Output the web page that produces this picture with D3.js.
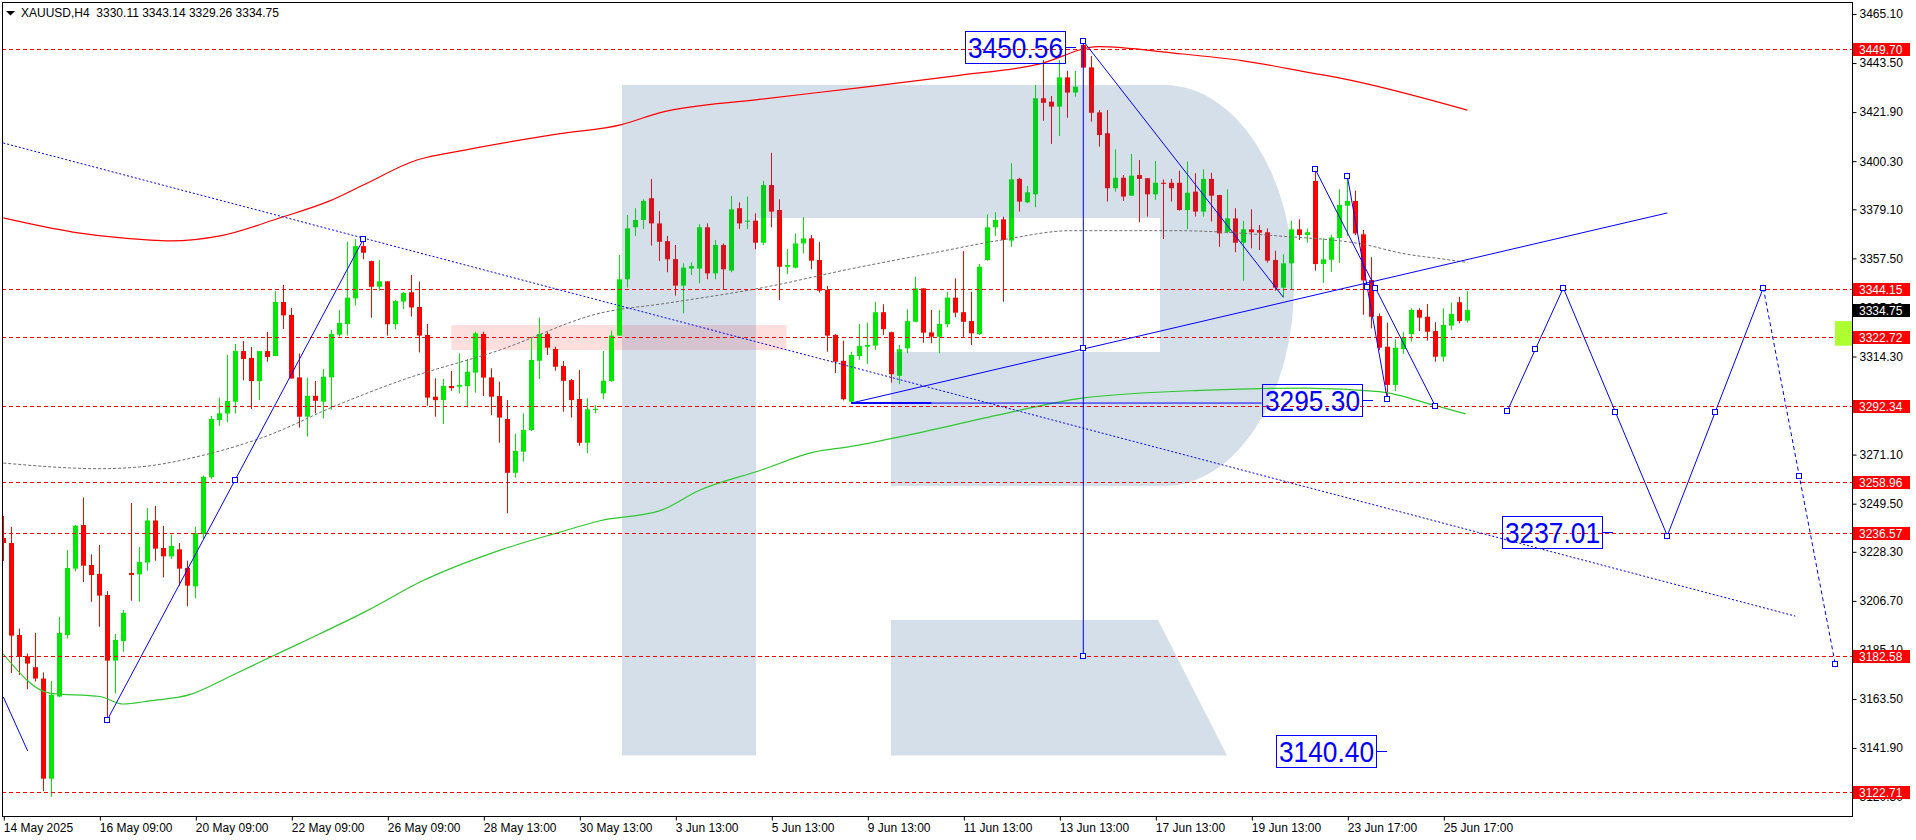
<!DOCTYPE html>
<html><head><meta charset="utf-8">
<script src="https://cdn.jsdelivr.net/npm/d3@7"></script>
<style>
body{margin:0;background:#fff}
svg{display:block}
text{font-family:"Liberation Sans",Arial,"DejaVu Sans",sans-serif}
</style>
</head><body>
<svg id="c" width="1916" height="840"></svg>
<script>
// ---------------- DATA ----------------
const chartTitle = "XAUUSD,H4  3330.11 3343.14 3329.26 3334.75";
const timeLabels = ["14 May 2025","16 May 09:00","20 May 09:00","22 May 09:00","26 May 09:00","28 May 13:00","30 May 13:00","3 Jun 13:00","5 Jun 13:00","9 Jun 13:00","11 Jun 13:00","13 Jun 13:00","17 Jun 13:00","19 Jun 13:00","23 Jun 17:00","25 Jun 17:00"];
const timeLabelBars = [0,12,24,36,48,60,72,84,96,108,120,132,144,156,168,180];
const priceTicks = [3465.10,3443.50,3421.90,3400.30,3379.10,3357.50,3335.90,3314.30,3292.70,3271.10,3249.50,3228.30,3206.70,3185.10,3163.50,3141.90,3120.30];
const levelPrices = [3449.70,3344.15,3322.72,3292.34,3258.96,3236.57,3182.58,3122.71];
const lastPrice = 3334.75;
const bidMarker = [3329.9,3319.05];
// candles: [open, high, low, close], one per H4 bar
const candles = [
[3234.4,3244.1,3224.3,3232.2],[3232.2,3239.3,3174.9,3191.4],[3191.7,3194.5,3174.1,3182.0],[3182.3,3183.5,3167.8,3179.1],
[3177.5,3192.6,3171.2,3172.5],[3172.5,3175.2,3123.0,3128.4],[3128.4,3171.4,3120.5,3165.4],[3164.6,3199.7,3164.3,3192.6],
[3191.7,3229.1,3190.1,3221.2],[3220.9,3240.1,3219.7,3239.8],[3240.1,3252.2,3215.0,3222.2],[3222.5,3227.2,3206.3,3218.1],
[3218.6,3231.3,3195.3,3209.0],[3209.3,3211.0,3155.2,3180.4],[3180.4,3192.1,3165.9,3189.5],[3189.0,3202.7,3184.3,3201.4],
[3219.0,3249.8,3206.8,3218.1],[3218.4,3230.4,3206.3,3223.8],[3223.6,3247.6,3220.0,3242.1],[3242.1,3248.5,3224.4,3229.7],
[3230.0,3239.7,3217.0,3226.3],[3226.3,3235.9,3225.1,3230.9],[3229.4,3232.2,3213.4,3220.9],[3221.2,3224.4,3204.3,3213.4],
[3213.1,3239.3,3207.9,3236.5],[3236.1,3261.8,3233.8,3261.3],[3261.2,3288.1,3260.5,3286.8],[3286.3,3296.2,3283.8,3289.3],
[3289.2,3315.1,3285.4,3294.7],[3294.4,3319.8,3289.2,3316.7],[3316.7,3321.1,3303.8,3313.2],[3313.7,3318.5,3291.2,3303.5],
[3303.5,3316.7,3295.1,3316.7],[3316.7,3325.1,3312.0,3314.1],[3314.5,3343.1,3314.5,3338.3],[3338.3,3345.8,3326.4,3332.4],
[3332.6,3335.7,3304.6,3304.6],[3305.1,3315.6,3283.0,3287.8],[3287.8,3304.9,3279.1,3297.0],[3297.0,3303.5,3289.3,3294.8],
[3294.4,3308.8,3287.0,3305.4],[3305.1,3326.0,3290.9,3324.2],[3323.9,3334.8,3323.1,3329.1],[3328.6,3364.8,3323.5,3340.2],
[3339.9,3366.0,3336.7,3362.9],[3362.9,3364.8,3357.1,3360.0],[3356.3,3356.5,3331.4,3345.0],[3345.0,3356.8,3343.3,3347.4],
[3347.4,3347.4,3323.5,3328.5],[3328.5,3339.2,3326.3,3338.7],[3338.5,3342.7,3335.2,3342.3],[3342.6,3350.2,3331.9,3335.9],
[3336.1,3347.3,3316.1,3323.5],[3323.8,3328.6,3292.6,3296.2],[3296.6,3304.7,3287.8,3295.1],[3295.1,3304.4,3284.6,3301.3],
[3301.3,3307.9,3299.2,3300.4],[3301.0,3315.7,3298.1,3301.8],[3301.3,3313.2,3291.9,3307.6],[3307.2,3325.2,3298.4,3324.5],
[3324.2,3325.2,3296.9,3305.0],[3305.1,3309.1,3288.5,3296.6],[3296.9,3303.2,3276.3,3287.4],[3286.8,3295.1,3245.3,3263.1],
[3263.1,3280.2,3260.9,3272.7],[3272.4,3289.3,3268.0,3281.9],[3281.9,3322.8,3281.5,3312.8],[3312.4,3331.4,3304.4,3324.2],
[3324.2,3325.2,3315.0,3318.2],[3317.6,3318.6,3308.0,3309.8],[3310.1,3312.3,3290.0,3303.6],[3303.9,3304.4,3287.4,3295.1],
[3295.6,3308.4,3275.0,3276.3],[3276.3,3295.9,3271.7,3291.1],[3290.7,3292.9,3289.3,3291.2],[3298.1,3316.7,3295.5,3303.6],
[3303.5,3325.7,3303.2,3323.5],[3323.5,3359.0,3323.5,3348.3],[3348.3,3376.6,3344.6,3370.7],[3371.2,3379.6,3367.4,3374.4],
[3374.4,3383.5,3370.4,3382.8],[3384.0,3392.5,3363.1,3372.9],[3372.9,3378.4,3356.3,3364.8],[3365.1,3367.4,3351.4,3357.1],
[3357.2,3363.4,3341.1,3345.5],[3345.5,3355.3,3333.3,3353.4],[3353.0,3355.8,3350.2,3354.1],[3353.0,3372.6,3346.5,3371.2],
[3371.2,3372.9,3348.3,3350.9],[3350.9,3365.6,3348.3,3363.4],[3363.4,3364.1,3343.9,3352.7],[3352.1,3385.0,3351.4,3379.1],
[3379.6,3382.2,3370.4,3372.9],[3373.7,3384.7,3370.4,3374.1],[3374.1,3377.3,3361.5,3364.4],[3364.4,3391.6,3363.4,3389.8],
[3389.8,3404.0,3371.2,3378.1],[3378.8,3383.5,3339.2,3353.8],[3353.8,3361.6,3350.5,3354.6],[3353.4,3368.5,3353.1,3364.1],
[3364.1,3375.6,3359.7,3366.3],[3366.3,3367.8,3352.7,3356.5],[3356.8,3364.8,3342.4,3343.3],[3343.6,3345.3,3316.4,3323.5],
[3323.8,3324.1,3307.0,3312.0],[3312.4,3321.3,3295.0,3295.5],[3294.4,3316.4,3293.8,3315.0],[3314.5,3328.6,3312.8,3318.9],
[3318.6,3329.2,3310.9,3319.4],[3319.1,3338.4,3317.2,3333.8],[3333.8,3337.3,3323.8,3326.3],[3325.0,3325.2,3302.8,3306.5],
[3305.8,3319.4,3302.1,3317.5],[3317.9,3335.1,3315.7,3329.9],[3329.6,3349.4,3329.6,3344.3],[3344.3,3344.3,3320.4,3324.8],
[3324.9,3334.8,3320.1,3323.0],[3323.0,3334.8,3315.7,3328.6],[3328.5,3342.8,3327.2,3340.2],[3340.2,3348.7,3331.6,3333.6],
[3333.8,3360.7,3323.0,3329.6],[3329.9,3342.8,3319.4,3324.5],[3324.2,3355.0,3323.8,3353.8],[3356.8,3376.9,3356.5,3371.2],
[3371.2,3377.8,3367.4,3374.4],[3374.7,3375.9,3338.4,3365.6],[3365.3,3399.4,3362.6,3392.3],[3392.5,3393.0,3378.1,3382.5],
[3382.2,3389.4,3381.8,3386.6],[3385.7,3433.8,3380.0,3428.0],[3428.0,3444.8,3418.1,3426.0],[3426.5,3429.0,3407.9,3424.3],
[3424.3,3444.8,3411.4,3437.2],[3437.2,3440.1,3419.4,3430.5],[3430.5,3440.0,3428.7,3433.1],[3451.5,3453.0,3441.5,3441.5],
[3441.6,3446.6,3417.7,3421.6],[3421.8,3422.8,3406.7,3411.8],[3412.6,3422.8,3382.5,3388.4],[3388.4,3405.5,3386.9,3393.0],
[3393.0,3394.2,3382.8,3384.7],[3385.1,3403.5,3385.1,3393.9],[3394.2,3400.8,3373.4,3392.5],[3392.8,3392.8,3375.9,3385.7],
[3385.7,3400.4,3383.2,3390.8],[3390.8,3392.3,3366.0,3390.3],[3390.8,3392.5,3382.5,3388.4],[3390.8,3396.1,3378.5,3378.8],
[3378.8,3400.1,3370.4,3386.4],[3386.9,3395.0,3375.9,3378.1],[3378.1,3396.7,3375.9,3392.5],[3392.5,3395.2,3373.7,3385.1],
[3385.4,3385.4,3362.6,3368.5],[3369.2,3387.9,3368.5,3375.1],[3375.1,3379.6,3360.2,3364.4],[3364.4,3374.0,3347.7,3370.3],
[3370.3,3379.1,3361.9,3369.0],[3370.0,3372.2,3361.2,3368.8],[3369.0,3370.7,3355.6,3356.5],[3356.8,3360.9,3343.3,3344.6],
[3344.6,3359.3,3340.4,3355.3],[3355.3,3374.0,3343.9,3370.3],[3370.3,3374.7,3365.6,3367.8],[3367.8,3370.7,3364.4,3369.0],
[3391.6,3397.2,3352.1,3355.0],[3355.0,3366.3,3346.7,3357.1],[3356.9,3368.0,3351.6,3366.7],[3366.5,3387.9,3355.5,3381.0],
[3380.7,3393.6,3367.4,3382.8],[3382.8,3387.3,3367.8,3368.5],[3368.1,3370.0,3332.7,3347.8],[3348.0,3358.0,3326.7,3331.8],
[3332.1,3333.3,3317.2,3318.2],[3318.6,3329.2,3296.6,3301.8],[3301.8,3321.9,3299.1,3318.2],[3317.6,3325.2,3315.4,3322.8],
[3324.2,3335.5,3320.8,3334.8],[3334.8,3335.5,3325.5,3331.4],[3331.8,3337.4,3321.3,3325.2],[3325.5,3329.4,3312.0,3314.2],
[3314.2,3335.5,3312.0,3328.2],[3327.9,3338.0,3326.0,3333.0],[3338.2,3340.6,3328.9,3329.9],[3330.11,3343.14,3329.26,3334.75]
];
// moving averages: [bar, price]
const maRed = [[0,3375.3],[8.7,3369.1],[14.8,3366.5],[20.9,3365.2],[27.1,3367.4],[34.7,3375.5],[40.8,3382.8],[45,3389.8],[51.7,3400.8],[57.7,3405.2],[69.6,3412.4],[77.3,3416.4],[82,3421.6],[94.5,3427.5],[106.9,3432.6],[119.3,3438.0],[129.3,3442.9],[136.9,3450.7],[146.3,3447.9],[155,3444.5],[163.6,3439.1],[167.1,3436.9],[183,3422.8]];
const maGrey = [[0,3267.4],[12.1,3264.9],[17.1,3265.7],[24.6,3270.5],[33,3279.4],[41.2,3292.1],[49.6,3303.6],[62.1,3317.2],[74.6,3333.4],[83,3337.8],[95.5,3345.0],[105.8,3352.8],[116.2,3359.9],[124.8,3365.6],[133.5,3369.7],[146.3,3369.7],[159.3,3367.4],[170.4,3363.4],[174.6,3359.9],[180.8,3356.8],[183,3355.7]];
const maGreen = [[0,3183.3],[5.8,3166.1],[12.1,3164.6],[15,3161.3],[18.3,3162.7],[23.3,3165.4],[28.7,3174.1],[37.1,3188.1],[45.5,3202.4],[52.1,3215.0],[62.5,3229.5],[69.6,3237.0],[74.6,3242.0],[82,3246.3],[87.1,3255.5],[94.5,3264.0],[101.3,3272.2],[105.8,3274.6],[113.1,3279.7],[125.6,3289.5],[134.8,3296.0],[150.5,3299.5],[162.8,3300.4],[172,3298.8],[178.8,3292.9],[182.8,3289.0]];
// drawn objects: [bar, price] end points
const trendSolid = [
  [[13,3154.3],[45,3365.9]],
  [[0,3164.4],[3.05,3140.6]],
  [[106,3293.8],[208,3377.5]],
  [[106,3293.8],[157.3,3293.8]],
  [[135,3453.2],[135,3182.6]],
  [[135,3453.2],[160,3340.4]],
  [[164,3396.7],[179,3292.5]],
  [[168,3393.8],[173,3295.6]],
  [[188,3290.3],[195,3344.5]],
  [[195,3344.5],[208,3235.4]],
  [[208,3235.4],[220,3344.5]]
];
const anchoredSolid = [0,4,6,7,8,9,10];
const trendDotted = [[[0,3408.3],[224,3200.0]]];
const forecastDotted = [[[220,3344.5],[229,3178.8]]];
const zoneBars = [56,97.9];
const zonePrices = [3328.16,3317.15];
const boxLabelPrices = [3450.56,3295.30,3237.01,3140.40];
const boxLabelBars = [120.25,157.3,187.3,159.1];

// ---------------- DRAW ----------------
const W=1916,H=840;
const plot={l:2,r:1852,t:2,b:816};
const x=d3.scaleLinear().domain([0,183]).range([3.3,3.3+183*8]);
const y=d3.scaleLinear().domain([3465.1,3163.5]).range([14,699]);
const BULL="#00e600", BEAR="#ff0000", BLUE="#0000ff";
const svg=d3.select('#c');
svg.append('rect').attr('width',W).attr('height',H).attr('fill','#fff');
svg.append('defs').append('clipPath').attr('id','clip').append('rect')
  .attr('x',plot.l+1).attr('y',plot.t+1).attr('width',plot.r-plot.l-1).attr('height',plot.b-plot.t-1);
const g=svg.append('g').attr('clip-path','url(#clip)');

// zone
g.append('rect').attr('x',x(zoneBars[0])).attr('width',x(zoneBars[1])-x(zoneBars[0]))
  .attr('y',y(zonePrices[0])).attr('height',y(zonePrices[1])-y(zonePrices[0]))
  .attr('fill','rgba(255,0,0,0.13)');

// candles
const cg=g.append('g');
cg.selectAll('line.wick').data(candles).join('line').attr('class','wick')
  .attr('x1',(d,i)=>Math.round(x(i))+0.5).attr('x2',(d,i)=>Math.round(x(i))+0.5)
  .attr('y1',d=>y(d[1])).attr('y2',d=>y(d[2]))
  .attr('stroke',d=>d[3]>=d[0]?BULL:BEAR).attr('stroke-width',1);
cg.selectAll('rect.body').data(candles).join('rect').attr('class','body')
  .attr('x',(d,i)=>Math.round(x(i))-2).attr('width',5)
  .attr('y',d=>Math.min(y(d[0]),y(d[3])))
  .attr('height',d=>Math.max(1,Math.abs(y(d[0])-y(d[3]))))
  .attr('fill',d=>d[3]>=d[0]?BULL:BEAR);

// watermark logo
g.append('path')
  .attr('d','M622,85 H1164 A130,200.5 0 0 1 1164,486 H891 V352 H1160 V218 H756 V755.5 H622 Z M891,620 H1158 L1227,755.5 H891 Z')
  .attr('fill','rgba(45,95,150,0.2)');

// moving averages
const ln=d3.line().x(d=>x(d[0])).y(d=>y(d[1])).curve(d3.curveMonotoneX);
g.append('path').attr('d',ln(maRed)).attr('fill','none').attr('stroke','#ff0000').attr('stroke-width',1.2);
g.append('path').attr('d',ln(maGreen)).attr('fill','none').attr('stroke','#2ec82e').attr('stroke-width',1.2);
g.append('path').attr('d',ln(maGrey)).attr('fill','none').attr('stroke','#6e6e6e').attr('stroke-width',1).attr('stroke-dasharray','3,2');

// horizontal level lines
g.selectAll('line.lvl').data(levelPrices).join('line').attr('class','lvl')
  .attr('x1',plot.l).attr('x2',plot.r)
  .attr('y1',d=>Math.round(y(d))+0.5).attr('y2',d=>Math.round(y(d))+0.5)
  .attr('stroke','#ff0000').attr('stroke-dasharray','4,3');

// trend lines
const sl=d3.line().x(d=>x(d[0])).y(d=>y(d[1]));
g.selectAll('path.ts').data(trendSolid).join('path').attr('class','ts')
  .attr('d',sl).attr('fill','none').attr('stroke',BLUE).attr('stroke-width',1);
g.append('path').attr('d',sl([trendSolid[3][0],[116,trendSolid[3][0][1]]])).attr('stroke',BLUE).attr('stroke-width',2).attr('fill','none');
g.selectAll('path.td').data(trendDotted).join('path').attr('class','td')
  .attr('d',sl).attr('fill','none').attr('stroke',BLUE).attr('stroke-width',1).attr('stroke-dasharray','2,2');
g.selectAll('path.fd').data(forecastDotted).join('path').attr('class','fd')
  .attr('d',sl).attr('fill','none').attr('stroke',BLUE).attr('stroke-width',1).attr('stroke-dasharray','4,3');

// anchor squares (ends and middle)
const anchors=[];
anchoredSolid.map(k=>trendSolid[k]).concat(forecastDotted).forEach(seg=>{
  const a=seg[0], b=seg[1];
  anchors.push(a,b,[(a[0]+b[0])/2,(a[1]+b[1])/2]);
});
g.selectAll('rect.anc').data(anchors).join('rect').attr('class','anc')
  .attr('x',d=>Math.round(x(d[0]))-2.5).attr('y',d=>Math.round(y(d[1]))-2.5)
  .attr('width',5).attr('height',5).attr('fill','#fff').attr('stroke',BLUE).attr('stroke-width',1);

// boxed price labels
const bl=g.selectAll('g.bl').data(boxLabelPrices).join('g').attr('class','bl')
  .attr('transform',(d,i)=>`translate(${Math.round(x(boxLabelBars[i]))},${Math.round(y(d))})`);
bl.append('rect').attr('x',0.5).attr('y',-15.5).attr('width',100).attr('height',32)
  .attr('fill','none').attr('stroke',BLUE);
bl.append('line').attr('x1',101).attr('x2',111).attr('y1',0.5).attr('y2',0.5).attr('stroke',BLUE);
bl.append('text').attr('x',3).attr('y',11).attr('font-size',30).attr('fill',BLUE)
  .attr('textLength',95).attr('lengthAdjust','spacingAndGlyphs').text(d=>d.toFixed(2));

// frame
svg.append('rect').attr('x',plot.l+0.5).attr('y',plot.t+0.5).attr('width',plot.r-plot.l).attr('height',plot.b-plot.t)
  .attr('fill','none').attr('stroke','#000');

// right axis
const ay=svg.append('g').attr('transform',`translate(${plot.r+0.5},0)`)
  .call(d3.axisRight(y).tickValues(priceTicks).tickSize(4).tickPadding(3).tickFormat(d=>d.toFixed(2)));
ay.select('.domain').remove();
ay.attr('font-size',12).attr('font-family','"Liberation Sans",Arial,sans-serif');
ay.selectAll('text').attr('fill','#000');

// bottom axis
const ax=svg.append('g').attr('transform',`translate(0,${plot.b+0.5})`)
  .call(d3.axisBottom(x).tickValues(timeLabelBars).tickSize(4).tickPadding(3).tickFormat((d,i)=>timeLabels[i]));
ax.select('.domain').remove();
ax.attr('font-size',12).attr('font-family','"Liberation Sans",Arial,sans-serif');
ax.selectAll('text').attr('text-anchor','start').attr('fill','#000');
ax.selectAll('.tick line').attr('transform','translate(0.5,0)');

// axis price tags
svg.append('rect').attr('x',plot.r-17).attr('y',y(bidMarker[0])).attr('width',17)
  .attr('height',y(bidMarker[1])-y(bidMarker[0])).attr('fill','#adff2f');
const tags=svg.selectAll('g.tag').data(levelPrices.concat([lastPrice])).join('g').attr('class','tag')
  .attr('transform',d=>`translate(${plot.r+1},${Math.round(y(d))})`);
tags.append('rect').attr('x',0).attr('y',-6).attr('width',57).attr('height',13)
  .attr('fill',d=>d===lastPrice?'#000':'#ff0000');
tags.append('text').attr('x',6).attr('y',4.5).attr('font-size',12).attr('fill','#fff').text(d=>d.toFixed(2));

// title
svg.append('path').attr('d','M6,11 L15,11 L10.5,15.5 Z').attr('fill','#000');
svg.append('text').attr('x',21).attr('y',16.7).attr('font-size',12).attr('fill','#000').attr('xml:space','preserve')
  .style('white-space','pre').text(chartTitle);
</script>
</body></html>
